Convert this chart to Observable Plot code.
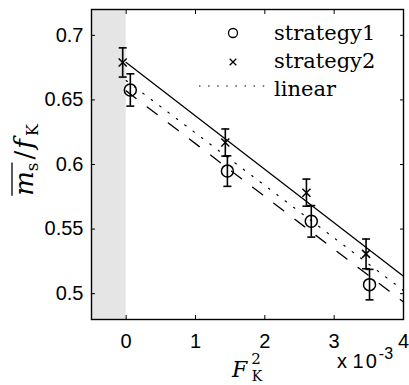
<!DOCTYPE html>
<html><head><meta charset="utf-8">
<script src="https://cdn.jsdelivr.net/npm/d3@7"></script>
<script src="https://cdn.jsdelivr.net/npm/@observablehq/plot@0.6"></script>
<style>html,body{margin:0;padding:0;background:#fff} svg{display:block}
</style>
</head><body><div id="chart"></div>
<script>
const xTicks = [0, 0.001, 0.002, 0.003, 0.004];
const yTicks = [0.5, 0.55, 0.6, 0.65, 0.7];
const xDomain = [-0.0005, 0.004];
const yDomain = [0.48, 0.72];
const shaded = [-0.0005, 0];

const s1X = [0.00006, 0.00146, 0.00267, 0.00351];
const s1Y = [0.6577, 0.5949, 0.5560, 0.5070];
const s1Err = [0.0125, 0.0118, 0.0122, 0.0118];

const s2X = [-0.00005, 0.00143, 0.00260, 0.00346];
const s2Y = [0.6790, 0.6170, 0.5782, 0.5308];
const s2Err = [0.0113, 0.0105, 0.0105, 0.0115];

const fitX = [0, 0.004];
const solidY = [0.679, 0.5135];
const dashedY = [0.657, 0.4935];
const linearY = [0.665, 0.5025];

const legendLabels = ["strategy1", "strategy2", "linear"];

const toRows = (xs, ys, es) => xs.map((x, i) => ({x, y: ys[i], lo: ys[i] - es[i], hi: ys[i] + es[i]}));
const s1 = toRows(s1X, s1Y, s1Err);
const s2 = toRows(s2X, s2Y, s2Err);
const bars = s1.concat(s2);
const fitRows = (ys) => fitX.map((x, i) => ({x, y: ys[i]}));

const capSymbol = {draw(ctx, size) { const r = Math.sqrt(size / Math.PI); ctx.moveTo(-r, 0); ctx.lineTo(r, 0); }};
const crossSymbol = {draw(ctx, size) { const r = Math.sqrt(size / Math.PI); ctx.moveTo(-r, -r); ctx.lineTo(r, r); ctx.moveTo(-r, r); ctx.lineTo(r, -r); }};

const sans = "Liberation Sans, Arial, Helvetica, sans-serif";
const serif = "DejaVu Serif, Liberation Serif, serif";

const svg = Plot.plot({
  width: 409, height: 385,
  marginLeft: 91, marginRight: 6, marginTop: 9, marginBottom: 66,
  style: {fontSize: "20px", color: "black", background: "white", overflow: "visible"},
  x: {domain: xDomain},
  y: {domain: yDomain},
  marks: [
    Plot.rect([shaded], {x1: d => d[0], x2: d => d[1], fill: "#e5e5e5"}),
    Plot.line(fitRows(solidY), {x: "x", y: "y", stroke: "black", strokeWidth: 1.3}),
    Plot.line(fitRows(dashedY), {x: "x", y: "y", stroke: "black", strokeWidth: 1.3, strokeDasharray: "12.5,14"}),
    Plot.line(fitRows(linearY), {x: "x", y: "y", stroke: "black", strokeWidth: 1.2, strokeDasharray: "1.5,9"}),
    Plot.ruleX(bars, {x: "x", y1: "lo", y2: "hi", stroke: "black", strokeWidth: 1.6}),
    Plot.dot(bars, {x: "x", y: "lo", symbol: capSymbol, r: 4, fill: "none", stroke: "black", strokeWidth: 1.6}),
    Plot.dot(bars, {x: "x", y: "hi", symbol: capSymbol, r: 4, fill: "none", stroke: "black", strokeWidth: 1.6}),
    Plot.dot(s1, {x: "x", y: "y", symbol: "circle", r: 6, fill: "none", stroke: "black", strokeWidth: 1.5}),
    Plot.dot(s2, {x: "x", y: "y", symbol: crossSymbol, r: 4, fill: "none", stroke: "black", strokeWidth: 1.5}),
    Plot.frame({stroke: "black", strokeWidth: 1.4}),
    Plot.axisX(xTicks, {anchor: "bottom", tickSize: -4, tickPadding: 18, tickFormat: d => String(Math.round(d * 1000)), label: null, fontSize: 20, fontFamily: sans}),
    Plot.axisX(xTicks, {anchor: "top", tickSize: -4, tickFormat: () => "", label: null}),
    Plot.axisY(yTicks, {anchor: "left", tickSize: -4, tickPadding: 12, tickFormat: d => String(d), label: null, fontSize: 20, fontFamily: sans}),
    Plot.axisY(yTicks, {anchor: "right", tickSize: -4, tickFormat: () => "", label: null})
  ]
});
document.getElementById("chart").appendChild(svg);

const s = d3.select(svg);
const setFont = (sel, fam, size) => sel.attr("font-family", fam).attr("font-size", size).style("font-family", fam).style("font-size", size + "px");

// legend
const lg = s.append("g").attr("fill", "black").attr("text-anchor", "start");
setFont(lg, serif, 21);
lg.append("circle").attr("cx", 233).attr("cy", 33).attr("r", 4.5).attr("fill", "none").attr("stroke", "black").attr("stroke-width", 1.3);
lg.append("path").attr("d", "M229.7,58.7L236.3,65.3M229.7,65.3L236.3,58.7").attr("stroke", "black").attr("stroke-width", 1.3);
lg.append("line").attr("x1", 199).attr("x2", 267).attr("y1", 86).attr("y2", 86).attr("stroke", "black").attr("stroke-width", 1.2).attr("stroke-dasharray", "1.5,7.6");
[40, 68, 96].forEach((y, i) => lg.append("text").attr("x", 274).attr("y", y).attr("text-anchor", "start").text(legendLabels[i]));

// x label
const xl = s.append("text").attr("x", 232).attr("y", 377).attr("text-anchor", "start").attr("fill", "black");
setFont(xl, serif, 22);
xl.append("tspan").style("font-style", "italic").text("F");
setFont(xl.append("tspan").attr("dy", -13).attr("dx", 4).text("2"), serif, 15);
setFont(xl.append("tspan").attr("dy", 17).attr("dx", -9).text("K"), serif, 14);

// exponent
const ex = s.append("text").attr("x", 337).attr("y", 368).attr("text-anchor", "start").attr("fill", "black");
setFont(ex, sans, 20);
ex.append("tspan").text("x ");
ex.append("tspan").attr("letter-spacing", 2).text("10");
setFont(ex.append("tspan").attr("dy", -9).attr("dx", 0).text("-3"), sans, 16);

// y label
const gy = s.append("g").attr("transform", "translate(33,160) rotate(-90)");
const yt = gy.append("text").attr("text-anchor", "middle").attr("fill", "black");
setFont(yt, serif, 26);
yt.append("tspan").style("font-style", "italic").text("m");
setFont(yt.append("tspan").attr("dy", 5).text("s"), serif, 17);
yt.append("tspan").attr("dy", -5).attr("dx", 3).text("/");
yt.append("tspan").style("font-style", "italic").attr("dx", 2).text("f");
setFont(yt.append("tspan").attr("dy", 5).attr("dx", 3).text("K"), serif, 16);
const n = yt.node();
const p0 = n.getStartPositionOfChar(0).x, p1 = n.getEndPositionOfChar(1).x;
gy.append("line").attr("x1", p0).attr("x2", p1).attr("y1", -21).attr("y2", -21).attr("stroke", "black").attr("stroke-width", 1.3);
</script>
</body></html>
